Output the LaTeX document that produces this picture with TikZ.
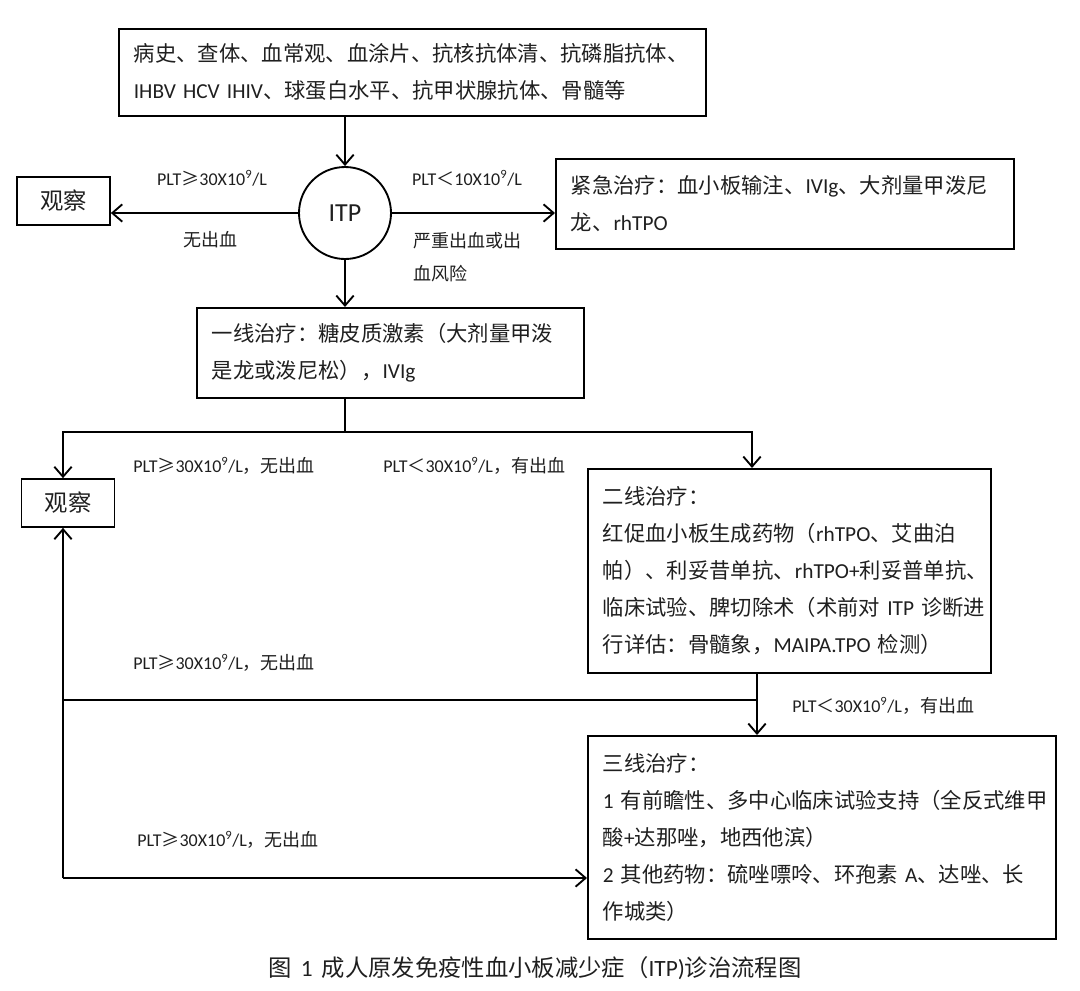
\documentclass[tikz,border=0pt]{standalone}
\usepackage{fontspec}
\setmainfont{Noto Sans CJK SC}
\newfontfamily\latf{Carlito}
\newcommand\ltn[1]{{\latf #1}}
\usetikzlibrary{arrows.meta,calc}
\hyphenpenalty=10000
\exhyphenpenalty=10000
\begin{document}
\begin{tikzpicture}[x=0.75pt,y=-0.75pt,
  every node/.style={text=black!88},
  box/.style={draw=black, line width=1.3pt, align=left, anchor=north west,
    inner xsep=11.25pt, inner ysep=0pt,
    font=\fontsize{16}{27.75}\selectfont},
  obsbox/.style={draw=black, line width=1.3pt, minimum width=69.75pt, minimum height=36pt,
    inner sep=0pt, font=\fontsize{17.5}{20}\selectfont},
  lbl/.style={font=\fontsize{13.5}{24.75}\selectfont, inner sep=0pt, align=left},
  ln/.style={line width=1.6pt},
  arr/.style={line width=1.6pt, -{Straight Barb[length=7.5pt,width=13pt,line width=1.4pt]}}]
\useasboundingbox (0,0) rectangle (1080,990);

% boxes
\node[box, text width=417.75pt, minimum height=65.25pt] (top) at (118,28)
  {病史、查体、血常观、血涂片、抗核抗体清、抗磷脂抗体、\\\ltn{IHBV~HCV~IHIV}、球蛋白水平、抗甲状腺抗体、骨髓等};
\node[draw=black, line width=1.4pt, circle, minimum size=69pt, inner sep=0pt,
  font=\latf\fontsize{19.5}{22}\selectfont] (itp) at (345,213) {ITP};
\node[obsbox] (obs1) at (63.5,201) {观察};
\node[box, text width=321pt, minimum height=67.5pt] (urg) at (555,158)
  {紧急治疗：血小板输注、\ltn{IVIg}、大剂量甲泼尼\\龙、\ltn{rhTPO}};
\node[box, text width=267.75pt, minimum height=67.5pt] (l1) at (196,307)
  {一线治疗：糖皮质激素（大剂量甲泼\\是龙或泼尼松），\ltn{IVIg}};
\node[obsbox] (obs2) at (68,503) {观察};
\node[box, text width=279.75pt, minimum height=153pt] (l2) at (587,468)
  {二线治疗：\\红促血小板生成药物（\ltn{rhTPO}、艾曲泊\\帕）、利妥昔单抗、\ltn{rhTPO+}利妥普单抗、\\临床试验、脾切除术（术前对~\ltn{ITP}~诊断进\\行详估：骨髓象，\ltn{MAIPA.TPO}~检测）};
\node[box, text width=328.5pt, minimum height=152.25pt] (l3) at (587,735)
  {三线治疗：\\\ltn{1}~有前瞻性、多中心临床试验支持（全反式维甲\\酸\ltn{+}达那唑，地西他滨）\\\ltn{2}~其他药物：硫唑嘌呤、环孢素~\ltn{A}、达唑、长\\作城类）};

% connectors
\draw[arr] (top.south -| itp) -- (itp.north);
\draw[arr] (itp.west) -- (itp.west -| obs1.east);
\draw[arr] (itp.east) -- (itp.east -| urg.west);
\draw[arr] (itp.south) -- (itp.south |- l1.north);
\coordinate (sp) at (345,432);
\coordinate (spl) at (63,432);
\draw[ln] (l1.south -| sp) -- (sp);
\draw[arr] (sp) -- (spl) -- (spl |- obs2.north);
\draw[arr] (sp) -| ($(l2.north west)+(165,0)$);
\draw[arr] ($(l2.south west)+(170,0)$) -- ($(l3.north west)+(170,0)$);
\coordinate (jn) at (757,700);
\coordinate (bl) at (63,878);
\draw[ln] (jn) -- (jn -| bl);
\draw[arr] (bl) -- (bl |- obs2.south);
\draw[arr] (bl) -- (bl -| l3.west);

% labels
\node[lbl] (a1) at (212,178) {\ltn{PLT}≥\ltn{30X10\textsuperscript{9}/L}};
\node[lbl] (a2) at (210,240) {无出血};
\node[lbl] (a3) at (467,178) {\ltn{PLT}＜\ltn{10X10\textsuperscript{9}/L}};
\node[lbl, anchor=north west] (a4) at (413,232) {严重出血或出\\血风险};
\node[lbl, anchor=west] (b1) at (133,466) {\ltn{PLT}≥\ltn{30X10\textsuperscript{9}/L}，无出血};
\node[lbl, anchor=west] (b2) at (383,466) {\ltn{PLT}＜\ltn{30X10\textsuperscript{9}/L}，有出血};
\node[lbl, anchor=west] (b3) at (133,663) {\ltn{PLT}≥\ltn{30X10\textsuperscript{9}/L}，无出血};
\node[lbl, anchor=west] (b4) at (792,706) {\ltn{PLT}＜\ltn{30X10\textsuperscript{9}/L}，有出血};
\node[lbl, anchor=west] (b5) at (137,840) {\ltn{PLT}≥\ltn{30X10\textsuperscript{9}/L}，无出血};
\node[inner sep=0pt, font=\fontsize{17.5}{20}\selectfont] (cap) at (535,968)
  {图\,~\ltn{1}~\,成人原发免疫性血小板减少症（\ltn{ITP)}诊治流程图};
\end{tikzpicture}
\end{document}
